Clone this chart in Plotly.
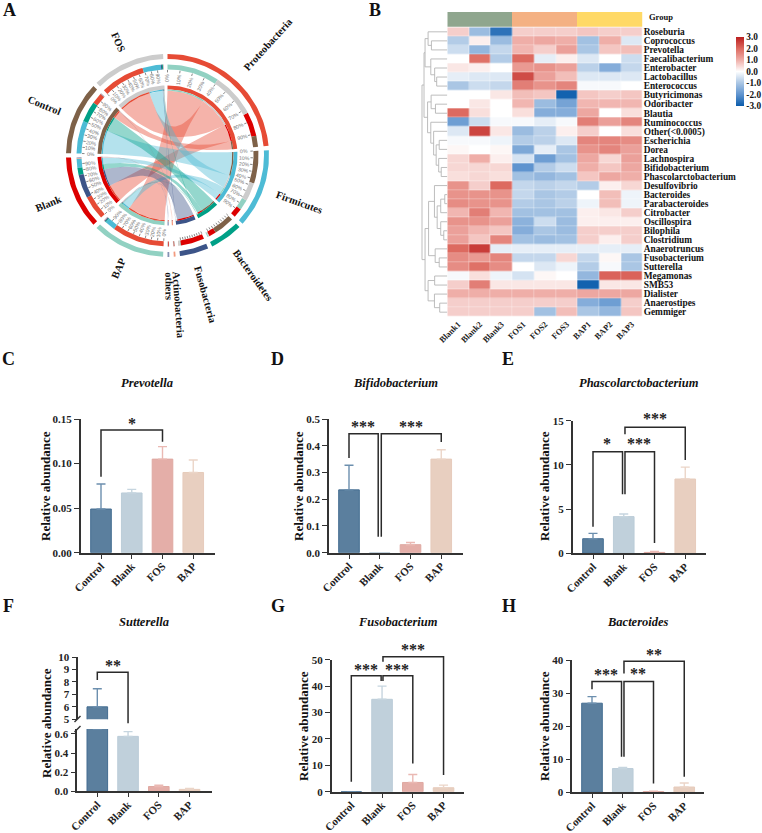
import math
import plotly.graph_objects as go

W, H = 762, 833
FONT = "Liberation Serif"
DARK = "#333333"

# ---------- data: chord (percent of each group per phylum) ----------
phyla = ["Proteobacteria", "Firmicutes", "Bacteroidetes", "Fusobacteria", "Actinobacteria", "others"]
groups = ["BAP", "Blank", "Control", "FOS"]
bap_shares = [80, 16, 1.5, 1.5, 0.5, 0.5]
blank_shares = [37, 14, 11, 36, 1, 1]
control_shares = [17, 50, 31.5, 0.5, 0.5, 0.5]
fos_shares = [68, 28, 1.5, 1.5, 0.5, 0.5]
phylum_colors = ["#E64B35", "#4DBBD5", "#00A087", "#3C5488", "#F39B7F", "#8491B4"]
group_colors = ["#91D1C2", "#DC0000", "#7E6148", "#CCCCCC"]
phylum_order = [["BAP", "FOS", "Blank", "Control"], ["Control", "FOS", "BAP", "Blank"],
                ["Control", "Blank", "FOS", "BAP"], ["Blank", "BAP", "FOS", "Control"],
                ["BAP", "Blank", "Control", "FOS"], ["BAP", "Blank", "Control", "FOS"]]
group_order = {"BAP": [0, 1, 2, 3, 4, 5], "Blank": [0, 3, 2, 1, 4, 5],
               "Control": [1, 2, 0, 3, 4, 5], "FOS": [0, 1, 3, 2, 4, 5]}

# ---------- data: heatmap ----------
genera = ["Roseburia", "Coprococcus", "Prevotella", "Faecalibacterium", "Enterobacter", "Lactobacillus",
          "Enterococcus", "Butyricimonas", "Odoribacter", "Blautia", "Ruminococcus", "Other(<0.0005)",
          "Escherichia", "Dorea", "Lachnospira", "Bifidobacterium", "Phascolarctobacterium", "Desulfovibrio",
          "Bacteroides", "Parabacteroides", "Citrobacter", "Oscillospira", "Bilophila", "Clostridium",
          "Anaerotruncus", "Fusobacterium", "Sutterella", "Megamonas", "SMB53", "Dialister", "Anaerostipes",
          "Gemmiger"]
samples = ["Blank1", "Blank2", "Blank3", "FOS1", "FOS2", "FOS3", "BAP1", "BAP2", "BAP3"]
heat_values = [
    [0.6, -1.2, -2.6, 0.6, 0.6, 0.6, 0.7, 0.6, 0.6],
    [-0.9, 0.2, -1.2, 1.0, 1.1, 1.0, -1.1, 1.0, -0.4],
    [-0.6, -1.3, -0.7, 0.9, 0.6, 1.2, -1.0, 0.7, 0.8],
    [0, 1.9, -0.9, 2.0, -0.3, 0.2, -0.4, 0, -0.6],
    [0.3, 0.2, 0, 1.3, 1.4, 1.2, -0.8, -1.5, -0.7],
    [-0.3, -0.4, -0.4, 2.4, 1.2, 0.8, -0.4, -0.4, -0.4],
    [-1.0, -0.6, -0.7, 1.7, 1.4, 1.6, -0.1, -0.1, 0],
    [0, 0, 0.3, 0.8, 0.7, -2.9, 0.7, 0.6, 0.7],
    [0, 0.3, 0, 0.9, -1.2, -1.7, 0.9, 0.9, 0.9],
    [2.0, 0.4, 0, 0.4, -1.5, -1.5, 1.1, 0, 0.4],
    [-1.8, -0.6, -0.1, -0.1, -0.3, -0.1, 1.7, 1.2, 1.6],
    [-0.4, 2.5, 0.3, -1.2, -0.8, 0.2, 0.6, 0, 0.4],
    [-0.1, -0.1, -0.2, -0.9, -0.8, -0.4, 1.6, 1.6, 1.5],
    [0.1, 0, 0.1, -1.6, -0.3, -1.0, 1.4, 1.6, 1.2],
    [0.5, 1.0, 0.2, -0.5, -1.8, -1.1, 1.1, 0.5, 1.2],
    [0.5, 0.5, 0.5, -2.0, -0.9, -0.6, 1.0, 0.7, 1.1],
    [0.4, 0.5, 0.4, -1.1, -1.3, -1.1, 0.7, 1.1, 1.0],
    [1.4, 0.6, 2.0, -0.7, -0.8, -0.7, -0.9, 0.2, 0.5],
    [1.4, 1.4, 1.4, -0.7, -1.0, -0.9, 0, 0.8, -0.2],
    [1.5, 1.4, 1.4, -0.9, -1.0, -0.8, -0.2, 0.8, -0.2],
    [0.9, 1.7, 0.9, -1.1, -1.1, -1.1, 0.2, 0.3, 0.6],
    [1.4, 1.4, 1.2, -1.4, -0.6, -1.2, 0.2, 0.2, 0.2],
    [1.2, 0.9, 0.7, -1.5, -1.0, -1.2, 0.6, 0.6, 0.6],
    [1.2, 0.7, 1.6, -1.1, -1.2, -1.1, 0.6, 0.2, 0.6],
    [2.0, 2.6, -0.3, -0.3, -0.3, -0.3, -0.3, -0.3, -0.3],
    [1.5, 1.3, 1.6, -0.7, -0.7, 0.5, -0.7, 0.1, -1.0],
    [1.5, 1.9, 1.5, 0, -0.4, -0.2, -0.9, -0.1, -1.0],
    [-0.1, 0.4, -0.2, -0.5, 0.1, 0, -1.3, 2.1, 2.1],
    [0.6, 1.7, 0.3, 0.3, 0.3, 0.3, -2.9, 0.3, 0.3],
    [1.0, 1.0, 1.0, 1.0, 1.0, 1.0, 1.1, 1.1, 1.1],
    [0.6, 0.6, 0.6, 0.6, 0.6, 0.6, -1.5, -1.8, 0.6],
    [0.6, 0.6, 0.6, 0.6, -1.1, 0.8, -1.0, -1.3, 0.7],
]
# dendrogram as nested (height, left, right); leaves are row indexes
dendro_top = (22, (19, 0, (15.7, 1, 2)), (16.3, 3, (12.5, 4, (10.5, 5, 6))))
dendro_mid = (19.5, (16, 7, (11.7, 8, 9)),
              (16.3, 10, (13.5, 11, (11, (8, 12, 13), (8.5, 14, (6, 15, 16))))))
dendro_low = (18.5, (12.7, 17, (10, (6.5, (2.5, 18, 19), 20), (6.5, 21, (3.5, 22, 23)))), (12, 24, (8, 25, 26)))
dendro_end = (19, (12.5, 27, 28), (12.7, 29, (7.5, 30, 31)))
dendro_root = (25, (23, dendro_top, dendro_mid), (22, dendro_low, dendro_end))
group_band = [0, 0, 0, 1, 1, 1, 2, 2, 2]
band_colors = ["#8FA68E", "#F4B183", "#FFD966"]
scale_ticks = [3, 2, 1, 0, -1, -2, -3]

# ---------- data: bar panels ----------
cats = ["Control", "Blank", "FOS", "BAP"]
bar_fill = ["#5B7F9E", "#C0D0DB", "#E4AEA8", "#E8CFC0"]
bar_edge = ["#446D91", "#BBCCD8", "#DFA9A2", "#E6CBBB"]
err_color = ["#6C8FAE", "#C6D5DF", "#EAB9B3", "#EBD5C8"]

prevotella = [0.049, 0.067, 0.105, 0.09]
prevotella_top = [0.077, 0.071, 0.119, 0.104]
bifido = [0.235, 0.0, 0.03, 0.35]
bifido_top = [0.327, 0.0, 0.038, 0.385]
phasco = [1.65, 4.15, 0.1, 8.4]
phasco_top = [2.25, 4.45, 0.2, 9.75]
sutterella = [6.0, 0.575, 0.05, 0.02]
sutterella_top = [7.45, 0.625, 0.065, 0.03]
fuso = [0.0, 35.0, 3.5, 1.5]
fuso_top = [0.0, 40.0, 6.5, 2.5]
bacteroides = [27.0, 7.2, 0.2, 1.6]
bacteroides_top = [29.0, 7.5, 0.3, 2.8]

def X(p): return p / W
def Y(p): return 1 - p / H

traces = []
layout = dict(width=W, height=H, autosize=False, margin=dict(l=0, r=0, t=0, b=0, pad=0, autoexpand=False),
              paper_bgcolor="white", plot_bgcolor="rgba(0,0,0,0)", showlegend=False,
              font=dict(family=FONT, color="#222222"))
annots, shapes = [], []
ax_i = [0]

def new_axes(x0, x1, ytop, ybot, xa, ya):
    ax_i[0] += 1
    n = "" if ax_i[0] == 1 else str(ax_i[0])
    layout["xaxis" + n] = dict(domain=[X(x0), X(x1)], anchor="y" + n, **xa)
    layout["yaxis" + n] = dict(domain=[Y(ybot), Y(ytop)], anchor="x" + n, **ya)
    return "x" + n, "y" + n

def note(px, py, text, size, angle=0, color="#111111", xanchor="center"):
    annots.append(dict(x=X(px), y=Y(py), xref="paper", yref="paper", text=text, showarrow=False, textangle=angle,
                       xanchor=xanchor, yanchor="middle", font=dict(family=FONT, size=size, color=color)))

# ---------- A: chord diagram ----------
hidden = dict(visible=False, fixedrange=True)
CX, CY = 167.5, 155.4
xa, ya = new_axes(0, 370, 0, 340, dict(hidden, range=[0, 370]), dict(hidden, range=[340, 0]))
R_OUT1, R_OUT0 = 101.5, 96.5
R_T1, R_T0 = 91, 86
R_B1, R_B0 = 70, 66
R_RING = 64.7

matrix = {"BAP": bap_shares, "Blank": blank_shares, "Control": control_shares, "FOS": fos_shares}
phy_tot = [sum(matrix[g][i] for g in groups) for i in range(6)]
GAP = 2.5
unit = (360 - GAP * 10) / (sum(phy_tot) + 400)

def pol(r, a):
    t = math.radians(a)
    return CX + r * math.sin(t), CY - r * math.cos(t)

def arc(r, a0, a1):
    n = max(2, int(abs(a1 - a0) / 1.5) + 2)
    return [pol(r, a0 + (a1 - a0) * i / (n - 1)) for i in range(n)]

def band(r0, r1, a0, a1, color, op=1):
    pts = arc(r1, a0, a1) + arc(r0, a1, a0)
    traces.append(go.Scatter(x=[p[0] for p in pts] + [pts[0][0]], y=[p[1] for p in pts] + [pts[0][1]],
                             mode="lines", fill="toself", fillcolor=color, line=dict(width=0), opacity=op,
                             hoverinfo="skip", xaxis=xa, yaxis=ya))

sectors = []
ang = 0.0
for i, p in enumerate(phyla):
    sectors.append((p, ang, ang + phy_tot[i] * unit, phylum_colors[i]))
    ang += phy_tot[i] * unit + GAP
for j, g in enumerate(groups):
    sectors.append((g, ang, ang + 100 * unit, group_colors[j]))
    ang += 100 * unit + GAP
sec = {s[0]: s for s in sectors}

phy_seg, grp_seg = {}, {}
for i, p in enumerate(phyla):
    a = sec[p][1]
    for g in phylum_order[i]:
        v = matrix[g][i] * unit
        phy_seg[(g, i)] = (a, a + v)
        a += v
for g in groups:
    a = sec[g][1]
    for i in group_order[g]:
        v = matrix[g][i] * unit
        grp_seg[(g, i)] = (a, a + v)
        a += v

def hexa(c, alpha):
    return "rgba(%d,%d,%d,%.2f)" % (int(c[1:3], 16), int(c[3:5], 16), int(c[5:7], 16), alpha)

def bez(a0, a1, r=R_RING):
    p0, p1 = pol(r, a0), pol(r, a1)
    out = []
    for k in range(31):
        t = k / 30
        out.append(((1 - t) ** 2 * p0[0] + 2 * t * (1 - t) * CX + t ** 2 * p1[0],
                    (1 - t) ** 2 * p0[1] + 2 * t * (1 - t) * CY + t ** 2 * p1[1]))
    return out

for i in range(6):
    for g in groups:
        ga0, ga1 = grp_seg[(g, i)]
        pa0, pa1 = phy_seg[(g, i)]
        pts = arc(R_RING, ga0, ga1) + bez(ga1, pa0) + arc(R_RING, pa0, pa1) + bez(pa1, ga0)
        traces.append(go.Scatter(x=[q[0] for q in pts], y=[q[1] for q in pts], mode="lines", fill="toself",
                                 fillcolor=hexa(phylum_colors[i], 0.42), line=dict(width=0),
                                 hoverinfo="skip", xaxis=xa, yaxis=ya))

for name, a0, a1, col in sectors:
    band(R_OUT0, R_OUT1, a0, a1, col)
    band(R_B0, R_B1, a0, a1, col)
for i in range(6):
    for j, g in enumerate(groups):
        pa0, pa1 = phy_seg[(g, i)]
        ga0, ga1 = grp_seg[(g, i)]
        band(R_T0, R_T1, pa0, pa1, group_colors[j])
        band(R_RING, R_B0, pa0, pa1, group_colors[j])
        band(R_T0, R_T1, ga0, ga1, phylum_colors[i])
        band(R_RING, R_B0, ga0, ga1, phylum_colors[i])

# ticks and percent labels
tx, ty = [], []
for name, a0, a1, col in sectors:
    if name in ("Actinobacteria", "others"):
        continue
    for k in range(10):
        a = a0 + (a1 - a0) * k / 10
        p, q = pol(R_T0 - 0.5, a), pol(R_T0 - 3, a)
        tx += [p[0], q[0], None]
        ty += [p[1], q[1], None]
        if a1 - a0 > 30:
            lx, ly = pol(R_T0 - 9, a)
            rot = a - 90 if a < 180 else a - 270
            annots.append(dict(x=lx, y=ly, xref=xa, yref=ya, text="%d%%" % (k * 10), showarrow=False, textangle=rot,
                               xanchor="center", yanchor="middle", font=dict(family="Liberation Sans", size=5.2, color="#777777")))
traces.append(go.Scatter(x=tx, y=ty, mode="lines", line=dict(color="#555555", width=0.7), hoverinfo="skip", xaxis=xa, yaxis=ya))

for name, a0, a1, col in sectors:
    m = (a0 + a1) / 2
    lx, ly = pol(116 + 2.4 * len(name), m)
    rot = m - 90 if m < 183 else m - 270
    annots.append(dict(x=lx, y=ly, xref=xa, yref=ya, text="<b>%s</b>" % name, showarrow=False, textangle=rot,
                       xanchor="center", yanchor="middle", font=dict(family=FONT, size=10.5, color="#111111")))

# ---------- B: heatmap ----------
HX0, HX1, HY0, HY1 = 447.3, 642.7, 27.3, 316.7
cscale = [[0, "#0B5CAB"], [1 / 6, "#5F94CF"], [2 / 6, "#AAC6E4"], [0.5, "#FFFFFF"], [4 / 6, "#EFAEA8"],
          [5 / 6, "#DD6A60"], [1, "#BB1F1F"]]
xa, ya = new_axes(HX0, HX1, HY0, HY1,
                  dict(range=[-0.5, 8.5], tickmode="array", tickvals=list(range(9)), ticktext=samples, tickangle=-45,
                       ticks="", showline=False, showgrid=False, zeroline=False, tickfont=dict(size=8.5, family=FONT, weight=700, color="#222222")),
                  dict(range=[31.5, -0.5], side="right", tickmode="array", tickvals=list(range(32)), ticktext=genera,
                       ticks="", showline=False, showgrid=False, zeroline=False, tickfont=dict(size=9.35, family=FONT, weight=700, color="#111111")))
traces.append(go.Heatmap(z=heat_values, x=list(range(9)), y=list(range(32)), zmin=-3, zmax=3, colorscale=cscale,
                         xgap=0.3, ygap=0.3, hoverinfo="skip", xaxis=xa, yaxis=ya,
                         colorbar=dict(x=X(735.7), xanchor="left", xref="paper", y=Y(71.3), yanchor="middle", yref="paper",
                                       len=69.3 / H, lenmode="fraction", thickness=8.3, thicknessmode="pixels",
                                       outlinewidth=0, tickmode="array", tickvals=scale_ticks,
                                       ticktext=["%.1f" % t for t in scale_ticks], ticks="", ticklabelposition="outside",
                                       tickfont=dict(size=9.3, family=FONT, weight=700, color="#111111"), xpad=0, ypad=0)))
xa, ya = new_axes(HX0, HX1, 12, 26.7, dict(hidden, range=[-0.5, 8.5]), dict(hidden, range=[-0.5, 0.5]))
traces.append(go.Heatmap(z=[group_band], x=list(range(9)), y=[0], zmin=0, zmax=2, showscale=False, hoverinfo="skip",
                         colorscale=[[0, band_colors[0]], [0.33, band_colors[0]], [0.33, band_colors[1]],
                                     [0.66, band_colors[1]], [0.66, band_colors[2]], [1, band_colors[2]]],
                         xaxis=xa, yaxis=ya))
note(647, 17, "<b>Group</b>", 8.5, xanchor="left")

xa, ya = new_axes(421, HX0, HY0, HY1, dict(hidden, range=[26, 0]), dict(hidden, range=[31.5, -0.5]))
dx, dy = [], []
def walk(node):
    if not isinstance(node, tuple):
        return node, 0.0
    h, a, b = node
    ya_, ha = walk(a)
    yb_, hb = walk(b)
    dx.extend([ha, h, h, hb, None])
    dy.extend([ya_, ya_, yb_, yb_, None])
    return (ya_ + yb_) / 2, h
walk(dendro_root)
traces.append(go.Scatter(x=dx, y=dy, mode="lines", line=dict(color="#B5B5B5", width=0.9), hoverinfo="skip", xaxis=xa, yaxis=ya))

# ---------- C-H: bar panels ----------
def axis_x(x0, x1, c0, step):
    return dict(range=[(x0 - c0) / step, (x1 - c0) / step], tickmode="array", tickvals=[0, 1, 2, 3], ticktext=cats,
                tickangle=-45, ticks="outside", ticklen=4, tickwidth=1.3, tickcolor=DARK, showline=True, linecolor=DARK, linewidth=1.6,
                showgrid=False, zeroline=False, ticklabelstandoff=-3,
                tickfont=dict(size=11, family=FONT, weight=700, color="#222222"))

def axis_y(rng, vals, fmt):
    return dict(range=rng, tickmode="array", tickvals=vals, ticktext=[fmt % v for v in vals], ticks="outside", ticklen=5,
                tickwidth=1.3, tickcolor=DARK, showline=True, linecolor=DARK, linewidth=1.6, showgrid=False, zeroline=False,
                tickfont=dict(size=11, family=FONT, weight=700, color="#222222"))

def bars(vals, tops, xa, ya):
    for k in range(4):
        traces.append(go.Bar(x=[k], y=[vals[k]], width=0.67, marker=dict(color=bar_fill[k], line=dict(color=bar_edge[k], width=1)),
                             error_y=dict(type="data", symmetric=False, array=[tops[k] - vals[k]], arrayminus=[0],
                                          color=err_color[k], thickness=1.4, width=4.5),
                             hoverinfo="skip", xaxis=xa, yaxis=ya))

def bracket(xl, xr, top, lb, rb, xa, ya):
    traces.append(go.Scatter(x=[xl, xl, xr, xr], y=[lb, top, top, rb], mode="lines", cliponaxis=False,
                             line=dict(color="#2A2A2A", width=1.5), hoverinfo="skip", xaxis=xa, yaxis=ya))

def star(x, y, t, xa, ya):
    annots.append(dict(x=x, y=y, xref=xa, yref=ya, text="<b>%s</b>" % t, showarrow=False, xanchor="center", yanchor="middle",
                       font=dict(family=FONT, size=16, color="#222222")))

panels = [
    dict(r=(80.7, 215, 419, 552.7), c=101, max=0.15, vals=[0, .05, .10, .15], fmt="%.2f", d=(prevotella, prevotella_top),
         br=[(0, 2, .1376, .0853, .1245)], st=[(1, .145, "*")]),
    dict(r=(329, 462.7, 419, 552.7), c=349, max=0.5, vals=[0, .1, .2, .3, .4, .5], fmt="%.1f", d=(bifido, bifido_top),
         br=[(0, .95, .445, .354, .06), (1.05, 3, .445, .06, .414)], st=[(.47, .473, "***"), (2, .473, "***")]),
    dict(r=(572.7, 706, 420.7, 553.3), c=593, max=15, vals=[0, 5, 10, 15], fmt="%d", d=(phasco, phasco_top),
         br=[(0, .96, 11.5, 3.0, 6.67), (1.04, 2, 11.5, 6.67, 1.16), (1.04, 3, 14.25, 13.46, 10.55)],
         st=[(.47, 12.4, "*"), (1.5, 12.4, "***"), (2, 15.2, "***")]),
    dict(r=(331.7, 464, 659.7, 791.7), c=351.3, max=50, vals=[0, 10, 20, 30, 40, 50], fmt="%d", d=(fuso, fuso_top),
         br=[(0, .97, 43.9, 3.8, 41.9), (1.03, 2, 43.9, 41.9, 10.7), (1.03, 3, 51.1, 49.2, 6.3)],
         st=[(.47, 46.3, "***"), (1.5, 46.3, "***"), (2, 53.9, "***")]),
    dict(r=(572.3, 704, 660.3, 792.3), c=592, max=40, vals=[0, 10, 20, 30, 40], fmt="%d", d=(bacteroides, bacteroides_top),
         br=[(0, .96, 33.6, 31.2, 10.8), (1.04, 2, 33.6, 10.8, 2.7), (1.04, 3, 39.7, 36, 4.7)],
         st=[(.45, 35.8, "***"), (1.5, 36.1, "**"), (2, 41.8, "**")]),
]
STEP = 30.75
for P in panels:
    x0, x1, yt, yb = P["r"]
    xrange = [(x0 - P["c"]) / STEP, (x1 - P["c"]) / STEP]
    xa, ya = new_axes(x0, x1, yt, yb, axis_x(x0, x1, P["c"], STEP), axis_y([0, P["max"]], P["vals"], P["fmt"]))
    bars(P["d"][0], P["d"][1], xa, ya)
    extra = 30
    oxa, oya = new_axes(x0, x1, yt - extra, yb, dict(hidden, range=xrange),
                        dict(hidden, range=[0, P["max"] * (yb - yt + extra) / (yb - yt)]))
    for b in P["br"]:
        bracket(b[0], b[1], b[2], b[3], b[4], oxa, oya)
    for s in P["st"]:
        star(s[0], s[1], s[2], oxa, oya)

# F: broken axis
x0, x1, c = 77.3, 211.7, 97.3
xrange = [(x0 - c) / STEP, (x1 - c) / STEP]
xa, ya = new_axes(x0, x1, 729, 791.3, axis_x(x0, x1, c, STEP), axis_y([0, 0.652], [0, .2, .4, .6], "%.1f"))
bars(sutterella, [0.652, sutterella_top[1], sutterella_top[2], sutterella_top[3]], xa, ya)
xa, ya = new_axes(x0, x1, 657, 719.3, dict(hidden, range=xrange), axis_y([5, 10], [5, 6, 7, 8, 9, 10], "%d"))
layout[ya.replace("y", "yaxis")]["anchor"] = "free"
layout[ya.replace("y", "yaxis")]["position"] = X(x0)
bars(sutterella, sutterella_top, xa, ya)
PXU = (719.3 - 657) / 5
oxa, oya = new_axes(x0, x1, 640, 791.3, dict(hidden, range=xrange),
                    dict(hidden, range=[5 - (791.3 - 719.3) / PXU, 5 + (719.3 - 640) / PXU]))
bracket(0, 1, 8.77, 8.15, 4.68, oxa, oya)
star(.5, 9.35, "**", oxa, oya)
for py in (719, 729):
    shapes.append(dict(type="line", xref="paper", yref="paper", x0=X(74.5), x1=X(80.5), y0=Y(py + 3), y1=Y(py - 3),
                       line=dict(color=DARK, width=1.5)))

# ---------- texts ----------
for t, px, py in [("A", 9, 10), ("B", 375, 10), ("C", 8, 359), ("D", 277, 359), ("E", 508, 359),
                  ("F", 8, 606), ("G", 278, 606), ("H", 509, 606)]:
    note(px, py, "<b>%s</b>" % t, 18)
for t, px, py in [("Prevotella", 147, 383), ("Bifidobacterium", 395, 383), ("Phascolarctobacterium", 639, 383),
                  ("Sutterella", 144, 622), ("Fusobacterium", 398, 622), ("Bacteroides", 638, 622)]:
    note(px, py, "<b><i>%s</i></b>" % t, 12.5)
for px, py in [(45, 486), (298, 486), (544, 486), (46, 723), (303, 726), (544, 726)]:
    note(px, py, "<b>Relative abundance</b>", 13, angle=-90)

layout["annotations"] = annots
layout["shapes"] = shapes
fig = go.Figure(data=traces, layout=layout)
fig.write_html("out.html", config=dict(displayModeBar=False),
               post_script="document.body.style.margin='0';document.documentElement.style.margin='0';")
